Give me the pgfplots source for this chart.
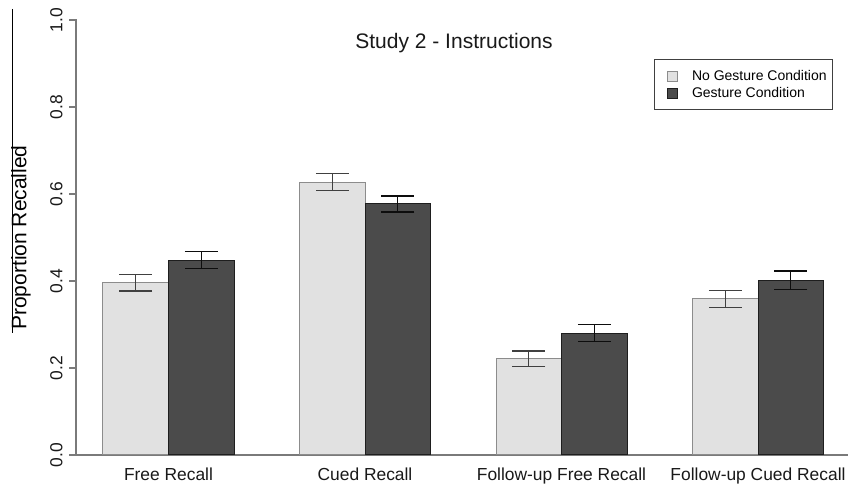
\documentclass[border=0pt]{standalone}
\usepackage{pgfplots}
\pgfplotsset{compat=1.18}
\usetikzlibrary{calc}
\usepackage{fontspec}
\setmainfont{Liberation Sans}
\definecolor{lightbar}{HTML}{E1E1E1}
\definecolor{lightedge}{HTML}{8C8C8C}
\definecolor{darkbar}{HTML}{4B4B4B}
\definecolor{darkedge}{HTML}{1E1E1E}
\definecolor{axisgray}{HTML}{7A7A7A}
\begin{document}
\begin{tikzpicture}
\begin{axis}[
  at={(0,0)}, anchor=south west,
  scale only axis, width=772pt, height=435pt,
  xmin=0.5878, xmax=12.374, ymin=0, ymax=1,
  axis lines*=left,
  separate axis lines,
  x axis line style={draw=axisgray, line width=1.2pt},
  y axis line style={draw=axisgray, line width=1.2pt},
  xtick={2,5,8,11},
  xticklabels={Free Recall, Cued Recall, Follow-up Free Recall, Follow-up Cued Recall},
  xtick style={/pgfplots/major tick length=0pt},
  ytick={0,0.2,0.4,0.6,0.8,1.0},
  tick align=outside,
  ytick style={draw=axisgray, line width=1.2pt, /pgfplots/major tick length=7pt},
  /pgf/number format/.cd, fixed, fixed zerofill, precision=1, assume math mode=true,
  /pgfplots/.cd,
  tick label style={font=\fontsize{17.4}{20}\selectfont, text=black!90},
  yticklabel style={rotate=90, anchor=south, inner sep=0pt},
  yticklabel shift=9pt,
  xticklabel style={anchor=base, inner sep=0pt, yshift=-21pt},
  ylabel={Proportion Recalled},
  ylabel style={at={(axis description cs:-0.0712,0.5)}, anchor=center, font=\fontsize{21}{24}\selectfont},
  legend style={at={(0.9806,0.910)}, anchor=north east, draw=black!75, line width=0.8pt,
    font=\fontsize{14}{17}\selectfont, inner xsep=6pt, inner ysep=11pt, row sep=5pt,
    nodes={inner sep=0pt}},
  legend cell align=left,
  /tikz/every odd column/.append style={column sep=14pt},
  legend image code/.code={\path (-7pt,0pt); \draw[#1, line width=0.8pt] (0pt,-5pt) rectangle (10pt,5pt);},
  clip=false,
]
\addplot[ybar, bar width=1, bar shift=0pt, fill=lightbar, draw=lightedge, line width=1pt,
  error bars/.cd, y dir=both, y explicit,
  error bar style={black!75, line width=1.1pt},
  error mark options={black!75, line width=1.1pt, rotate=90, mark size=16.5pt}]
coordinates {
  (1.5,0.396) +- (0,0.019)
  (4.5,0.627) +- (0,0.0195)
  (7.5,0.221) +- (0,0.018)
  (10.5,0.359) +- (0,0.0195)
};
\addlegendentry{No Gesture Condition}
\addplot[ybar, bar width=1, bar shift=0pt, fill=darkbar, draw=darkedge, line width=1pt,
  error bars/.cd, y dir=both, y explicit,
  error bar style={black!95, line width=1.1pt},
  error mark options={black!95, line width=1.1pt, rotate=90, mark size=16.5pt}]
coordinates {
  (2.5,0.448) +- (0,0.020)
  (5.5,0.577) +- (0,0.0185)
  (8.5,0.280) +- (0,0.020)
  (11.5,0.402) +- (0,0.021)
};
\addlegendentry{Gesture Condition}
\node[font=\fontsize{21}{24}\selectfont, text=black!90] at (axis cs:6.359,0.947) {Study 2 - Instructions};
\coordinate (ybot) at (axis cs:0.5878,0);
\coordinate (ytop) at (axis cs:0.5878,1);
\end{axis}
\draw[axisgray, line width=1.2pt] ([xshift=0.6pt]ybot) -- ([xshift=0.6pt]ytop);
\foreach \f in {0,0.2,0.4,0.6,0.8,1}{
  \draw[axisgray, line width=1.2pt] ($(ybot)!\f!(ytop)+(0.6pt,0)$) -- ++(-7.6pt,0pt);
}
\draw[black, line width=1pt] (-63pt,446pt) -- (-63pt,122pt);
\pgfresetboundingbox
\useasboundingbox (-76pt,-31pt) rectangle (773pt,455pt);
\end{tikzpicture}
\end{document}
